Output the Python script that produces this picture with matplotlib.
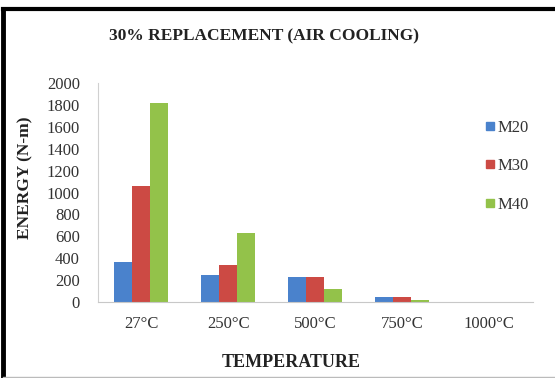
import matplotlib
matplotlib.use("Agg")
import matplotlib.pyplot as plt
import numpy as np
from matplotlib.lines import Line2D

categories = ["27°C", "250°C", "500°C", "750°C", "1000°C"]
series_names = ["M20", "M30", "M40"]
m20 = [370, 250, 228, 42, 0]
m30 = [1060, 335, 228, 42, 0]
m40 = [1815, 635, 115, 20, 0]
yticks = [0, 200, 400, 600, 800, 1000, 1200, 1400, 1600, 1800, 2000]

colors = ["#4A82CC", "#CC4A44", "#93C24A"]

plt.rcParams['font.family'] = ['Liberation Serif', 'DejaVu Serif']

fig = plt.figure(figsize=(5.55, 3.78), dpi=100)
ax = fig.add_axes([0.1766, 0.201, 0.7834, 0.579])

x = np.arange(len(categories))
w = 0.207
for i, (vals, c, n) in enumerate(zip([m20, m30, m40], colors, series_names)):
    ax.bar(x + (i - 1) * w, vals, width=w, color=c, label=n)

ax.set_xlim(-0.5, len(categories) - 0.5)
ax.set_ylim(0, 2000)
ax.set_yticks(yticks)
ax.set_xticks(x)
ax.set_xticklabels(categories)
ax.tick_params(axis='both', length=0, labelsize=12, colors='#333333')
ax.tick_params(axis='y', pad=13)
ax.tick_params(axis='x', pad=10)
for s in ['top', 'right']:
    ax.spines[s].set_visible(False)
ax.spines['left'].set_color('#d0d0d0')
ax.spines['bottom'].set_color('#c8c8c8')

fig.text(0.476, 0.905, "30% REPLACEMENT (AIR COOLING)", ha='center', va='center',
         fontsize=12.5, fontweight='bold', color='#222222')
fig.text(0.045, 0.529, "ENERGY (N-m)", rotation=90, ha='center', va='center',
         fontsize=12.5, fontweight='bold', color='#222222')
fig.text(0.525, 0.04, "TEMPERATURE", ha='center', va='center',
         fontsize=13, fontweight='bold', color='#222222')

handles = [Line2D([0], [0], marker='s', linestyle='none', markersize=6,
                  markerfacecolor=c, markeredgecolor=c) for c in colors]
fig.legend(handles, series_names, loc='center left', bbox_to_anchor=(0.843, 0.56),
           frameon=False, fontsize=12, labelspacing=1.35, handletextpad=0.05,
           handlelength=0.8, labelcolor='#333333')

# outer frame lines (left and top)
fig.add_artist(Line2D([0.0055, 0.0055], [0, 0.975], transform=fig.transFigure,
                      color='black', linewidth=3.5))
fig.add_artist(Line2D([0.0055, 1.0], [0.975, 0.975], transform=fig.transFigure,
                      color='black', linewidth=3))
fig.add_artist(Line2D([0.0055, 1.0], [0.002, 0.002], transform=fig.transFigure,
                      color='#bbbbbb', linewidth=1))

fig.savefig("out.png", dpi=100)
